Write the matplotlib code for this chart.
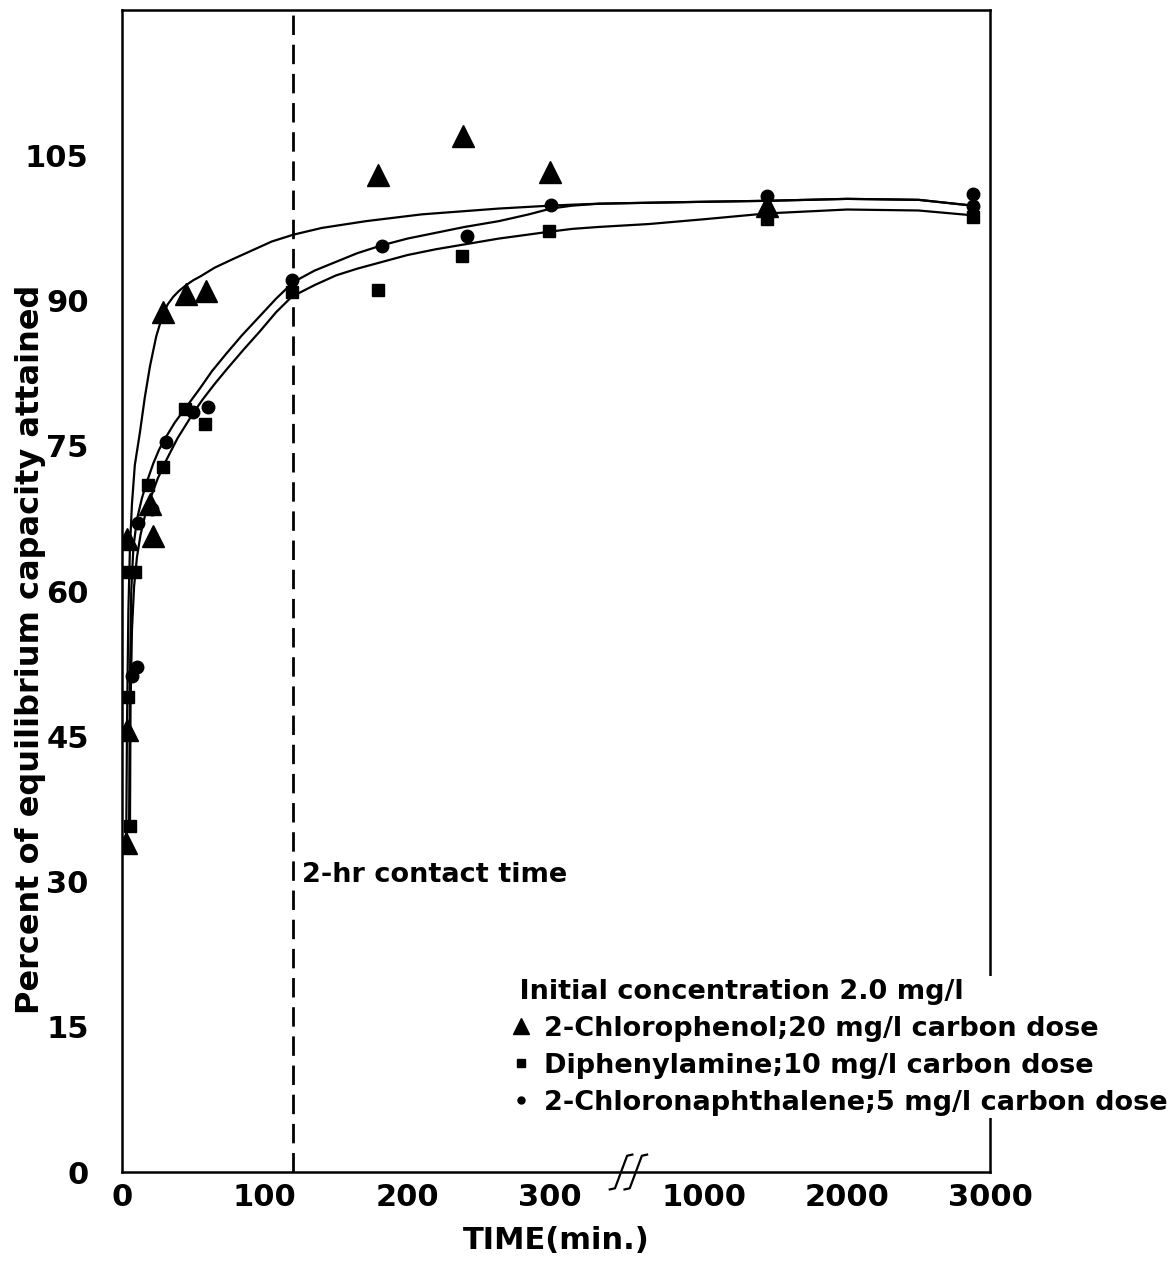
import numpy as np
import matplotlib
matplotlib.use("Agg")
import matplotlib.pyplot as plt
from matplotlib.lines import Line2D

plt.rcParams['font.family'] = ['DejaVu Sans']
plt.rcParams['font.weight'] = 'bold'

# measured points (time in min, percent of equilibrium capacity)
chlorophenol_t = [3, 3.5, 3.5, 21.5, 19.6, 28.7, 45, 59, 179, 239, 300, 1440]
chlorophenol_y = [34.0, 45.7, 65.4, 65.7, 69.0, 88.8, 90.7, 91.0, 103.0, 107.0, 103.3, 99.8]

diphenyl_t = [5.6, 4, 3.5, 9, 18, 29, 44, 58, 119, 179, 238, 299, 1440, 2880]
diphenyl_y = [35.7, 49.1, 62.0, 62.0, 71.0, 72.8, 78.8, 77.3, 90.9, 91.1, 94.6, 97.2, 98.4, 98.6]

naphth_t = [7, 10.5, 11, 21, 31, 50, 60, 119, 182, 242, 303, 1440, 2880, 2880]
naphth_y = [51.2, 52.2, 67.0, 68.5, 75.4, 78.5, 79.0, 92.1, 95.6, 96.7, 99.9, 100.8, 101.0, 99.8]

# fitted curves
curve_a_t = [3, 3.5, 4.5, 5.6, 7, 9, 12.6, 16, 19.6, 24, 28.7, 32, 36, 40, 45, 50, 55, 65,
             78, 90, 105, 120, 140, 171, 210, 264, 300, 400, 520, 747, 1000, 1440, 2000,
             2500, 2880]
curve_a_y = [34.0, 45.7, 58.0, 64.5, 69.0, 73.0, 76.4, 80.0, 83.2, 86.3, 88.6, 89.6, 90.4,
             91.0, 91.6, 92.1, 92.5, 93.4, 94.3, 95.1, 96.1, 96.8, 97.5, 98.2, 98.9, 99.5,
             99.8, 99.9, 100.0, 100.1, 100.2, 100.3, 100.5, 100.4, 99.8]

curve_b_t = [5, 5.5, 6.5, 8, 10.5, 14, 17.5, 22, 26, 30, 37, 44, 50, 54.5, 63, 73, 84, 96,
             108, 120, 135, 150, 165, 182, 200, 220, 240, 264, 285, 303, 400, 520, 747,
             1000, 1440, 2000, 2500, 2880]
curve_b_y = [35.7, 50.0, 60.0, 64.5, 67.4, 69.6, 71.3, 73.2, 74.6, 75.7, 77.4, 78.8, 80.0,
             80.9, 82.7, 84.5, 86.4, 88.3, 90.2, 91.9, 93.1, 94.0, 94.9, 95.7, 96.4, 97.0,
             97.6, 98.2, 98.9, 99.5, 99.8, 100.0, 100.1, 100.2, 100.3, 100.5, 100.4, 99.8]

curve_c_t = [5.6, 6, 7, 8.5, 10.5, 13, 16, 20, 25, 31, 39, 49.6, 56.6, 65, 73.4, 85, 96.5,
             108, 119, 135, 150, 165, 182.5, 200, 220, 240, 264, 299, 400, 520, 747, 1000,
             1440, 2000, 2500, 2880]
curve_c_y = [35.7, 48.0, 56.0, 60.5, 63.5, 65.8, 67.7, 69.6, 71.6, 73.5, 75.8, 78.3, 79.8,
             81.4, 82.9, 84.9, 86.8, 88.8, 90.4, 91.6, 92.6, 93.3, 94.0, 94.7, 95.3, 95.8,
             96.4, 97.1, 97.4, 97.6, 97.9, 98.4, 99.0, 99.4, 99.3, 98.8]

x_ticks = [0, 100, 200, 300, 1000, 2000, 3000]
y_ticks = [0, 15, 30, 45, 60, 75, 90, 105]

# broken time axis: 0-300 linear, then 1000-3000 at a tenth of the scale
knots_real = [0, 300, 1000, 3000]
knots_axis = [0, 300, 408, 608]


def fwd(x):
    return np.interp(x, knots_real, knots_axis)


def inv(x):
    return np.interp(x, knots_axis, knots_real)


fig = plt.figure(figsize=(11.75, 12.72), dpi=100)
ax = fig.add_axes([0.1038, 0.0786, 0.7387, 0.9135])
ax.set_xscale('function', functions=(fwd, inv))
ax.set_xlim(0, 3000)
ax.set_ylim(0, 120)

for t, y in [(curve_a_t, curve_a_y), (curve_b_t, curve_b_y), (curve_c_t, curve_c_y)]:
    ax.plot(t, y, color='black', lw=1.6)

ax.plot(chlorophenol_t, chlorophenol_y, '^', color='black', ms=16, ls='none')
ax.plot(diphenyl_t, diphenyl_y, 's', color='black', ms=9, ls='none')
ax.plot(naphth_t, naphth_y, 'o', color='black', ms=9, ls='none')

ax.axvline(120, color='black', lw=2, dashes=(7, 3.5))
ax.text(126, 30.7, '2-hr contact time', fontsize=19.5, fontweight='bold', va='center')

ax.set_xticks(x_ticks)
ax.set_xticklabels([str(v) for v in x_ticks])
ax.set_yticks(y_ticks)
ax.tick_params(axis='both', length=0, labelsize=22)
ax.tick_params(axis='y', pad=24)
ax.tick_params(axis='x', pad=8)
for lab in ax.get_xticklabels() + ax.get_yticklabels():
    lab.set_fontweight('bold')
for sp in ax.spines.values():
    sp.set_linewidth(1.8)

ax.set_xlabel('TIME(min.)', fontsize=22, fontweight='bold', labelpad=10)
ax.set_ylabel('Percent of equilibrium capacity attained', fontsize=23, fontweight='bold')
ax.yaxis.set_label_coords(-0.088, 0.45)

# axis break mark
for off in (0.0, 0.017):
    sx = np.array([-0.013, -0.007, -0.003, 0.0, 0.003, 0.007, 0.013]) + 0.575 + off
    sy = np.array([-0.015, -0.014, -0.006, 0.0, 0.006, 0.014, 0.015])
    ax.plot(sx, sy, color='black', lw=1.6, transform=ax.transAxes, clip_on=False)

handles = [
    Line2D([], [], marker='^', color='black', ls='none', ms=11),
    Line2D([], [], marker='s', color='black', ls='none', ms=6),
    Line2D([], [], marker='o', color='black', ls='none', ms=5),
]
labels = ['2-Chlorophenol;20 mg/l carbon dose',
          'Diphenylamine;10 mg/l carbon dose',
          '2-Chloronaphthalene;5 mg/l carbon dose']
leg = ax.legend(handles, labels, title=' Initial concentration 2.0 mg/l',
                loc='upper left', bbox_to_anchor=(0.428, 0.18), frameon=True,
                handlelength=0.8, handletextpad=0.45, labelspacing=0.4,
                borderpad=0.1, alignment='left',
                prop={'size': 19.5, 'weight': 'bold'},
                title_fontproperties={'size': 19.5, 'weight': 'bold'})
leg.get_frame().set_edgecolor('none')
leg.get_frame().set_facecolor('white')
leg.get_frame().set_alpha(1)

fig.savefig('out.png', dpi=100)
